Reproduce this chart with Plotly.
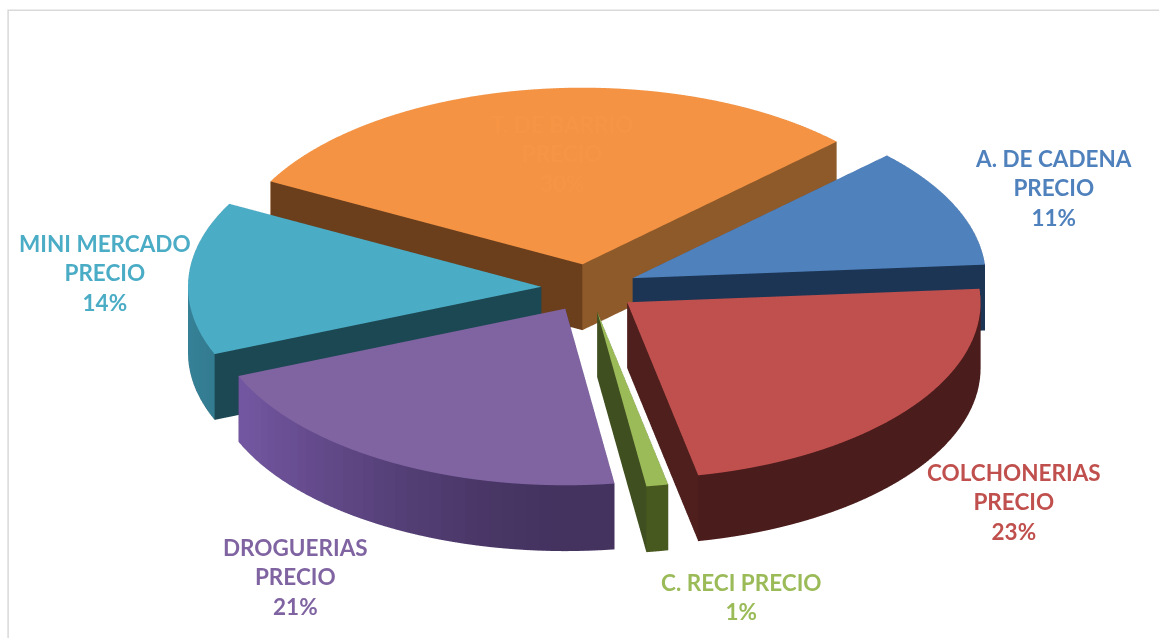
import math
import plotly.graph_objects as go

labels = ["A. DE CADENA PRECIO", "COLCHONERIAS PRECIO", "C. RECI PRECIO", "DROGUERIAS PRECIO", "MINI MERCADO PRECIO", "T. DE BARRIO PRECIO"]
values = [11, 23, 1, 21, 14, 30]
top_colors = ["#4F81BD", "#C0504D", "#9BBB59", "#8064A2", "#4BACC6", "#F49344"]
text_colors = ["#4F81BD", "#C0504D", "#9BBB59", "#8064A2", "#4BACC6", "#F69545"]
wall_dark = ["#1F3A5C", "#4A1C1C", "#48591F", "#44335F", "#1E4854", "#8F5A2A"]
cut_start = ["#1C3554", "#4F1F1E", "#404F20", "#3E2F58", "#1C4853", "#6B3F1C"]
cut_end = ["#1C3554", "#4F1F1E", "#404F20", "#3E2F58", "#1C4853", "#8F5A2A"]
label_pos = [(1053, 188), (1014, 502), (741, 597), (295, 577), (105, 273), (562, 154)]

START = 46.0
EXPLODE = 0.135
H = 0.215
STEP = 2.0
ZOOM = 2.77


def shade(c, f):
    r, g, b = (int(c[i:i + 2], 16) for i in (1, 3, 5))
    return f"rgb({min(int(r * f), 255)},{min(int(g * f), 255)},{min(int(b * f), 255)})"


fig = go.Figure()
total = sum(values)
a0 = START
for i, v in enumerate(values):
    a1 = a0 + v / total * 360
    mid = math.radians((a0 + a1) / 2)
    ox, oy = EXPLODE * math.sin(mid), EXPLODE * math.cos(mid)
    n = max(2, int((a1 - a0) / STEP))
    angs = [math.radians(a0 + (a1 - a0) * k / n) for k in range(n + 1)]
    xs, ys, zs, I, J, K, fc = [], [], [], [], [], [], []

    def pt(x, y, z):
        xs.append(x + ox); ys.append(y + oy); zs.append(z)
        return len(xs) - 1

    ct, cb = pt(0, 0, H), pt(0, 0, 0)
    tops = [pt(math.sin(a), math.cos(a), H) for a in angs]
    bots = [pt(math.sin(a), math.cos(a), 0) for a in angs]
    for k in range(n):
        I.append(ct); J.append(tops[k]); K.append(tops[k + 1]); fc.append(top_colors[i])
        I.append(cb); J.append(bots[k]); K.append(bots[k + 1]); fc.append(cut_start[i])
        am = (angs[k] + angs[k + 1]) / 2
        f = 1.0 + 0.8 * max(0.0, -math.sin(am)) ** 1.5
        w = shade(wall_dark[i], f)
        I += [tops[k], tops[k + 1]]; J += [bots[k], bots[k]]; K += [tops[k + 1], bots[k + 1]]; fc += [w, w]
    I += [ct, cb, ct, cb]
    J += [tops[0], tops[0], tops[-1], tops[-1]]
    K += [cb, bots[0], cb, bots[-1]]
    fc += [cut_start[i], cut_start[i], cut_end[i], cut_end[i]]
    fig.add_trace(go.Mesh3d(x=xs, y=ys, z=zs, i=I, j=J, k=K, facecolor=fc, flatshading=True,
                            lighting=dict(ambient=1, diffuse=0, specular=0, roughness=1, fresnel=0),
                            hoverinfo="text", text=labels[i], showscale=False))
    a0 = a1

axis = dict(visible=False, showgrid=False, zeroline=False, showbackground=False)
fig.update_layout(
    width=1159, height=638, margin=dict(l=0, r=0, t=0, b=0, autoexpand=False),
    paper_bgcolor="white", showlegend=False,
    scene=dict(xaxis=dict(axis, range=[-1.25, 1.25]), yaxis=dict(axis, range=[-1.25, 1.25]),
               zaxis=dict(axis, range=[-0.2, 0.4]), aspectmode="manual",
               aspectratio=dict(x=ZOOM, y=ZOOM, z=0.24 * ZOOM),
               camera=dict(projection=dict(type="orthographic"),
                           eye=dict(x=-0.03, y=-1.0, z=0.592), up=dict(x=0, y=0, z=1),
                           center=dict(x=-0.03, y=0, z=0.015))),
    shapes=[dict(type="rect", xref="paper", yref="paper", x0=0.007, x1=1.2, y0=-0.2, y1=0.984,
                 line=dict(color="#D9D9D9", width=1.5))],
)
for i, (x, y) in enumerate(label_pos):
    name = labels[i].rsplit(" ", 1)
    txt = f"{labels[i]}<br>{values[i]}%" if i == 2 else f"{name[0]}<br>{name[1]}<br>{values[i]}%"
    fig.add_annotation(x=x / 1159, y=1 - y / 638, xref="paper", yref="paper", xanchor="center", yanchor="middle",
                       text=f"<b>{txt}</b>", showarrow=False, align="center",
                       font=dict(family="Lato", size=22.5, color=text_colors[i]))
fig.write_html("out.html", config=dict(displayModeBar=False),
               post_script="document.body.style.margin='0';document.documentElement.style.overflow='hidden';")
